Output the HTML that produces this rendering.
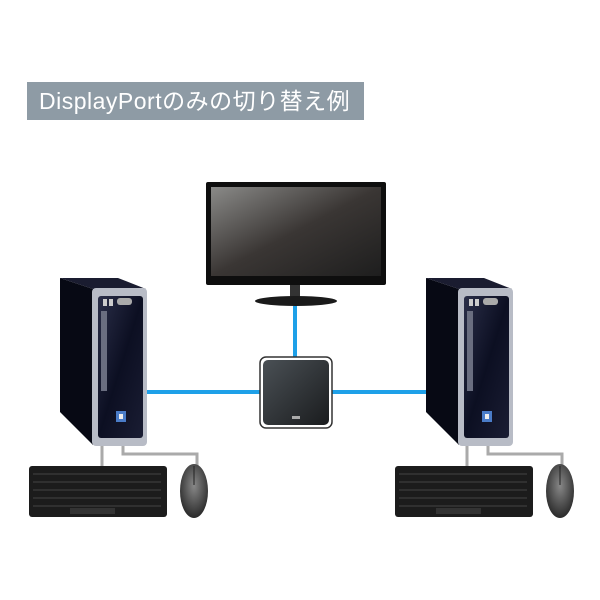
<!DOCTYPE html>
<html><head><meta charset="utf-8"><style>
body{margin:0;background:#fff;width:600px;height:600px;overflow:hidden}
.lab{position:absolute;left:27px;top:82px;width:337px;height:38px;background:#8e9ba5;color:#fff;font:23px "Liberation Sans","Noto Sans CJK JP",sans-serif;line-height:38px;text-indent:12px;letter-spacing:0.5px}
</style></head><body>
<div class="lab">DisplayPortのみの切り替え例</div>
<svg width="600" height="600" style="position:absolute;left:0;top:0">
<defs>
<linearGradient id="scr" x1="0" y1="0" x2="1" y2="1"><stop offset="0" stop-color="#8a8a88"/><stop offset="0.5" stop-color="#3a3634"/><stop offset="1" stop-color="#1e1e1e"/></linearGradient>
<linearGradient id="fr" x1="0" y1="0" x2="1" y2="1"><stop offset="0" stop-color="#2a2e48"/><stop offset="0.5" stop-color="#0c0f22"/><stop offset="1" stop-color="#1a1d33"/></linearGradient>
<linearGradient id="sw" x1="0" y1="0" x2="1" y2="1"><stop offset="0" stop-color="#4a5055"/><stop offset="1" stop-color="#1a1c1e"/></linearGradient>
<radialGradient id="ms" cx="0.5" cy="0.4" r="0.6"><stop offset="0" stop-color="#888"/><stop offset="1" stop-color="#2a2a2a"/></radialGradient>
<g id="pc">
<polygon points="60,278 118,278 146,289 93,289" fill="#1a1c30"/>
<polygon points="60,278 93,289 93,445 60,412" fill="#070914"/>
<rect x="92" y="288" width="55" height="158" rx="4" fill="#b8bcc6"/>
<rect x="98" y="296" width="45" height="142" rx="3" fill="url(#fr)"/>
<rect x="103" y="299" width="4" height="7" fill="#ccc"/><rect x="109" y="299" width="4" height="7" fill="#ccc"/>
<rect x="117" y="298" width="15" height="7" rx="3" fill="#aaa"/>
<rect x="101" y="311" width="6" height="80" fill="#6a6e80"/>
<rect x="116" y="411" width="10" height="11" fill="#4a7cc8"/><rect x="119" y="414" width="4" height="5" fill="#eee"/>
</g>
<g id="kb">
<rect x="29" y="466" width="138" height="51" rx="3" fill="#1c1c1c"/>
<g fill="none" stroke="#444" stroke-width="1">
<path d="M33 474h128M33 482h128M33 490h128M33 498h128M33 506h128"/>
</g>
<rect x="70" y="508" width="45" height="6" fill="#333"/>
</g>
<g id="ms1"><ellipse cx="194" cy="491" rx="14" ry="27" fill="url(#ms)"/><line x1="194" y1="466" x2="194" y2="485" stroke="#222"/></g>
</defs>
<!-- monitor -->
<rect x="206" y="182" width="180" height="103" rx="2" fill="#0e0e0e"/>
<rect x="211" y="187" width="170" height="89" fill="url(#scr)"/>
<rect x="290" y="285" width="10" height="12" fill="#333"/>
<ellipse cx="296" cy="301" rx="41" ry="5" fill="#1a1a1a"/>
<!-- cables -->
<line x1="295" y1="306" x2="295" y2="358" stroke="#1ea0e8" stroke-width="4"/>
<line x1="145" y1="392" x2="261" y2="392" stroke="#1ea0e8" stroke-width="4"/>
<line x1="331" y1="392" x2="428" y2="392" stroke="#1ea0e8" stroke-width="4"/>
<g stroke="#aaa" stroke-width="3" fill="none">
<path d="M102 445V467M123 445V454H197V467"/>
<path d="M467 445V467M488 445V454H562V467"/>
</g>
<!-- switch -->
<rect x="260" y="357" width="72" height="71" rx="6" fill="#fff" stroke="#333" stroke-width="1.5"/>
<rect x="263" y="360" width="66" height="65" rx="5" fill="url(#sw)"/>
<rect x="292" y="416" width="8" height="3" fill="#aaa"/>
<use href="#pc"/>
<use href="#pc" transform="translate(366,0)"/>
<use href="#kb"/>
<use href="#kb" transform="translate(366,0)"/>
<use href="#ms1"/>
<use href="#ms1" transform="translate(366,0)"/>
</svg>
</body></html>
